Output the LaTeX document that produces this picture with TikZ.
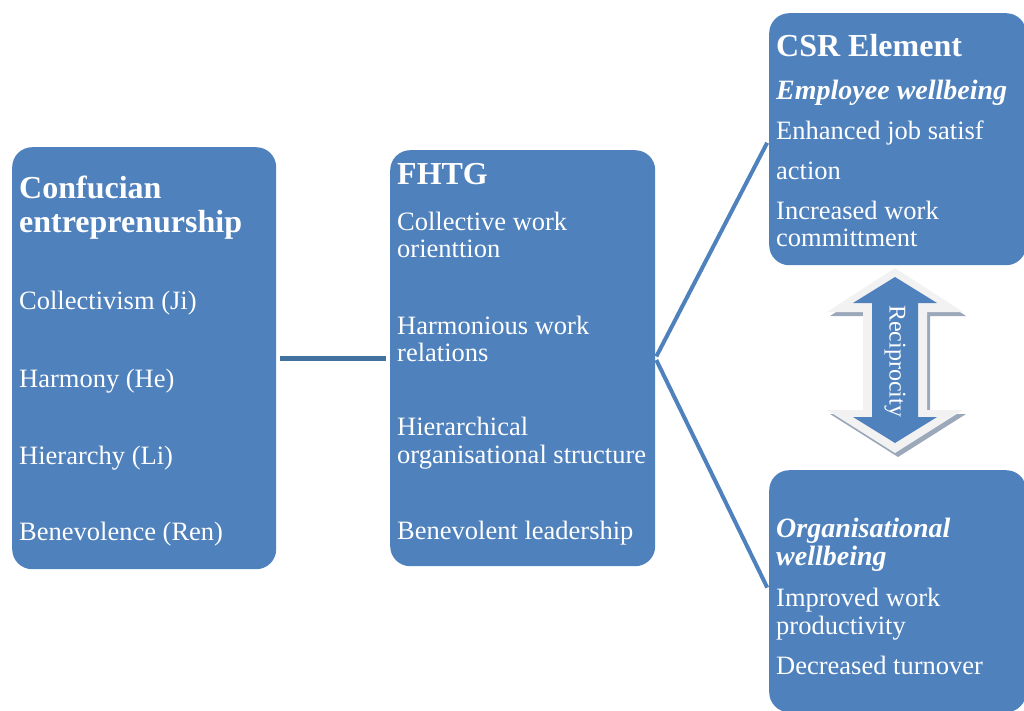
\documentclass[tikz,border=0pt]{standalone}
\usepackage[rgb]{xcolor}
\usepackage{fontspec}
\setmainfont{Liberation Serif}
\usepackage{tikz}
\definecolor{csr_blue}{HTML}{4F81BD}
\definecolor{csr_dark}{HTML}{41719C}
\definecolor{csr_light}{HTML}{F2F2F2}
\definecolor{csr_shadow}{HTML}{9AA8B9}

\tikzset{
    box/.style={fill=csr_blue, rounded corners=20pt, anchor=north west, inner sep=0pt},
    txt/.style={text=white, anchor=west, align=left, inner sep=0pt,
        font=\fontsize{26.5}{27.5}\selectfont},
    head/.style={txt, font=\fontsize{32}{34}\selectfont\bfseries},
    subhead/.style={txt, font=\fontsize{28}{27.5}\selectfont\bfseries\itshape},
    link/.style={csr_dark, line width=5pt, shorten <=4pt, shorten >=4pt},
    branch/.style={csr_blue, line width=4pt, shorten <=2pt, shorten >=4pt}
}

\begin{document}
\begin{tikzpicture}[x=1pt, y=-1pt]
        \useasboundingbox (0,0) rectangle (1024,711);

        \node[box, minimum width=264pt, minimum height=422pt] (conf) at (12,147) {};
        \node[box, minimum width=265pt, minimum height=416pt] (fhtg) at (390,150) {};
        \node[box, minimum width=257pt, minimum height=252pt] (csr) at (769,13) {};
        \node[box, minimum width=257pt, minimum height=242pt] (org) at (769,470) {};

        \draw[link] (conf.east) -- (fhtg.west);
        \draw[branch] (fhtg.east) -- (csr.west);
        \draw[branch] (fhtg.east) -- (org.west);

        % left box
        \node[head] (conf_t) at (19,208) {Confucian\\entreprenurship};
        \node[txt] (conf_ji) at (19,303) {Collectivism (Ji)};
        \node[txt] (conf_he) at (19,381) {Harmony (He)};
        \node[txt] (conf_li) at (19,458) {Hierarchy (Li)};
        \node[txt] (conf_ren) at (19,534) {Benevolence (Ren)};

        % middle box
        \node[head] (fhtg_t) at (397,174) {FHTG};
        \node[txt] (fhtg_a) at (397,235) {Collective work\\orienttion};
        \node[txt] (fhtg_b) at (397,339) {Harmonious work\\relations};
        \node[txt] (fhtg_c) at (397,443) {Hierarchical\\organisational structure};
        \node[txt] (fhtg_d) at (397,533) {Benevolent leadership};

        % right boxes
        \node[head] (csr_t) at (776,46) {CSR Element};
        \node[subhead] (csr_s) at (776,93) {Employee wellbeing};
        \node[txt] (csr_a) at (776,133) {Enhanced job satisf};
        \node[txt] (csr_b) at (776,171) {action};
        \node[txt] (csr_c) at (776,224) {Increased work\\committment};

        \node[subhead] (org_s) at (776,545) {Organisational\\wellbeing};
        \node[txt] (org_a) at (776,614) {Improved work\\productivity};
        \node[txt] (org_b) at (776,665) {Decreased turnover};

        % reciprocity arrow
        \fill[csr_shadow, shift={(3,4)}] (895,268) -- (827,312) -- (863,312) -- (863,410) -- (827,410)
            -- (895,453) -- (963,410) -- (927,410) -- (927,312) -- (963,312) -- cycle;
        \fill[csr_light] (895,268) -- (827,312) -- (863,312) -- (863,410) -- (827,410)
            -- (895,453) -- (963,410) -- (927,410) -- (927,312) -- (963,312) -- cycle;
        \fill[csr_blue] (895,277) -- (853,303) -- (872,303) -- (872,417) -- (853,417)
            -- (895,443) -- (937,417) -- (918,417) -- (918,303) -- (937,303) -- cycle;
        \node[text=white, rotate=-90, inner sep=0pt, font=\fontsize{24}{24}\selectfont] (recip) at (895,361) {Reciprocity};

        \end{tikzpicture}
\end{document}
